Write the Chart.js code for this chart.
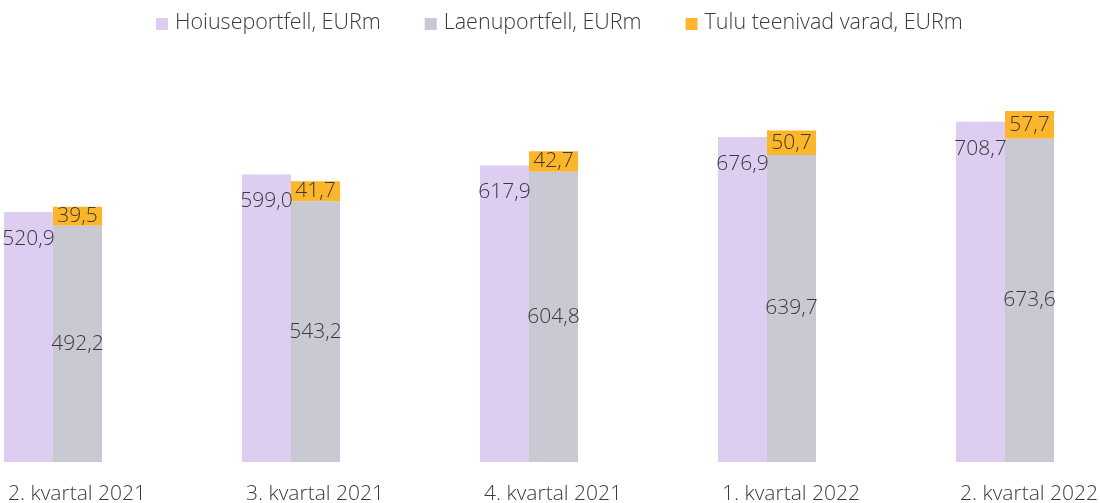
<!DOCTYPE html>
<html>
<head>
<meta charset="utf-8">
<script src="https://cdn.jsdelivr.net/npm/chart.js@4"></script>
<style>
  html, body { margin: 0; padding: 0; background: #fff; }
  #wrap { width: 1100px; height: 503px; }
</style>
</head>
<body>
<div id="wrap"><canvas id="chart"></canvas></div>
<script>
// quarters on the x axis
const quarters = ['2. kvartal 2021', '3. kvartal 2021', '4. kvartal 2021', '1. kvartal 2022', '2. kvartal 2022'];

// series, EURm
const deposits = [520.9, 599.0, 617.9, 676.9, 708.7];
const loans = [492.2, 543.2, 604.8, 639.7, 673.6];
const earningAssets = [39.5, 41.7, 42.7, 50.7, 57.7];

const seriesNames = ['Hoiuseportfell, EURm', 'Laenuportfell, EURm', 'Tulu teenivad varad, EURm'];

const COLORS = {
  lavender: '#dccdf1',
  grey: '#c9c9d3',
  orange: '#fdb52a',
  text: '#3a3a3a'
};

const FONT = "'Open Sans', 'Noto Sans', sans-serif";

const fmt = v => v.toFixed(1).replace('.', ',');

// value labels drawn on top of the bars
const barLabels = {
  id: 'barLabels',
  afterDatasetsDraw(chart) {
    const { ctx } = chart;
    ctx.save();
    ctx.font = `300 21px ${FONT}`;
    ctx.fillStyle = COLORS.text;
    ctx.textAlign = 'center';
    ctx.textBaseline = 'middle';
    chart.data.datasets.forEach((ds, di) => {
      const meta = chart.getDatasetMeta(di);
      meta.data.forEach((bar, i) => {
        const v = ds.data[i];
        let y;
        if (di === 0) y = bar.y + 27;          // just under the top of the deposit bar
        else y = (bar.y + bar.base) / 2;       // middle of the segment
        ctx.fillText(fmt(v), bar.x, y);
      });
    });
    ctx.restore();
  }
};

// legend row at the top, spaced like the original
const topLegend = {
  id: 'topLegend',
  afterDraw(chart) {
    const { ctx, width } = chart;
    const box = 12, gap = 7, spacing = 44, cy = 24;
    ctx.save();
    ctx.font = `300 21.5px ${FONT}`;
    ctx.textBaseline = 'middle';
    ctx.textAlign = 'left';
    const items = chart.data.datasets.map(ds => ({
      text: ds.label, color: ds.backgroundColor, w: ctx.measureText(ds.label).width
    }));
    const total = items.reduce((s, it) => s + box + gap + it.w, 0) + spacing * (items.length - 1);
    let x = Math.round((width - total) / 2) + 9;
    items.forEach(it => {
      ctx.fillStyle = it.color;
      ctx.fillRect(x, cy - box / 2, box, box);
      ctx.fillStyle = COLORS.text;
      ctx.fillText(it.text, x + box + gap, cy - 1);
      x += box + gap + it.w + spacing;
    });
    ctx.restore();
  }
};

const ctx = document.getElementById('chart').getContext('2d');

new Chart(ctx, {
  type: 'bar',
  data: {
    labels: quarters,
    datasets: [
      {
        label: seriesNames[0],
        data: deposits,
        backgroundColor: COLORS.lavender,
        stack: 'dep',
        clip: false
      },
      {
        label: seriesNames[1],
        data: loans,
        backgroundColor: COLORS.grey,
        stack: 'loan',
        clip: false
      },
      {
        label: seriesNames[2],
        data: earningAssets,
        backgroundColor: COLORS.orange,
        stack: 'loan',
        clip: false
      }
    ]
  },
  options: {
    responsive: true,
    maintainAspectRatio: false,
    animation: false,
    categoryPercentage: 0.412,
    barPercentage: 1,
    layout: { padding: { left: 53, right: 95, top: 78, bottom: 0 } },
    plugins: {
      legend: { display: false },
      tooltip: { enabled: false }
    },
    scales: {
      x: {
        offset: false,
        grid: { display: false, drawTicks: false },
        border: { display: false },
        ticks: {
          color: COLORS.text,
          font: { family: FONT, size: 21, weight: '300' },
          padding: 19,
          labelOffset: 24,
          maxRotation: 0,
          autoSkip: false
        },
        afterFit(scale) {
          // labels overhang the plot edges, as in the original
          scale.paddingLeft = 0;
          scale.paddingRight = 0;
          scale.height = 41;
        }
      },
      y: {
        display: false,
        stacked: true,
        min: 0,
        max: 800
      }
    }
  },
  plugins: [barLabels, topLegend]
});
</script>
</body>
</html>
